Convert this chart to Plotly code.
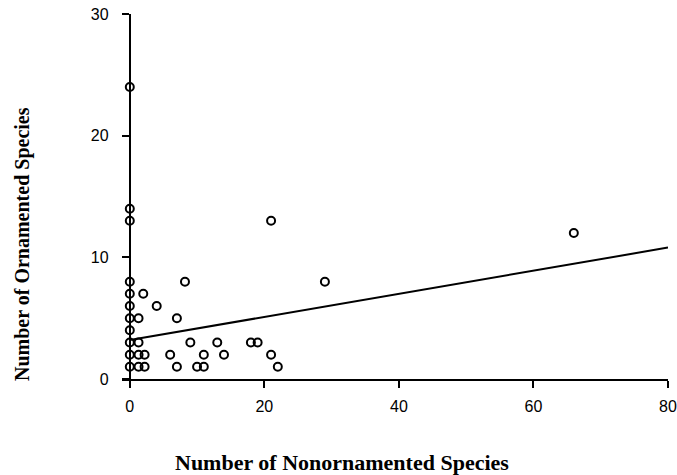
import plotly.graph_objects as go

# Data
nonornamented = [0, 0, 0, 0, 0, 0, 0, 0, 0, 0, 0,
                 1.3, 1.3, 1.3, 2.2, 1.3, 2.2, 2.0, 4.0, 8.2, 7.0,
                 9.0, 13.0, 18.0, 19.0, 6.0, 11.0, 14.0, 21.0, 7.0, 10.0,
                 11.0, 22.0, 21.0, 29.0, 66.0]
ornamented = [24, 14, 13, 8, 7, 6, 5, 4, 3, 2, 1,
              5, 3, 2, 2, 1, 1, 7, 6, 8, 5,
              3, 3, 3, 3, 2, 2, 2, 2, 1, 1,
              1, 1, 13, 8, 12]
trend_x = [0, 80]
trend_y = [3.2, 10.8]
x_ticks = [0, 20, 40, 60, 80]
y_ticks = [0, 10, 20, 30]

W, H = 677, 475
L, R, T, B = 122, 9, 14, 96
x_min = -1.16

fig = go.Figure()
fig.add_trace(go.Scatter(x=trend_x, y=trend_y, mode="lines",
                         line=dict(color="black", width=2), showlegend=False))
fig.add_trace(go.Scatter(x=nonornamented, y=ornamented, mode="markers",
                         marker=dict(symbol="circle-open", size=8,
                                     color="black", line=dict(width=2, color="black")),
                         showlegend=False))

def px_x(p):
    return (p - L) / (W - L - R)

def px_y(p):
    return (H - B - p) / (H - T - B)

fig.update_layout(
    width=W, height=H,
    margin=dict(l=L, r=R, t=T, b=B, autoexpand=False),
    plot_bgcolor="white", paper_bgcolor="white",
    font=dict(family="Liberation Sans, Arial", size=16, color="black"),
    xaxis=dict(range=[x_min, 80], showgrid=False, zeroline=False,
               showline=True, linecolor="black", linewidth=2,
               ticks="outside", ticklen=7, tickwidth=2, tickcolor="black",
               tickvals=x_ticks, ticklabelstandoff=5, automargin=False),
    yaxis=dict(range=[0, 30], showgrid=False, zeroline=False,
               showline=True, linecolor="black", linewidth=2,
               ticks="outside", ticklen=7, tickwidth=2, tickcolor="black",
               tickvals=y_ticks, anchor="free", automargin=False,
               position=(0 - x_min) / (80 - x_min), ticklabelstandoff=10),
    annotations=[
        dict(text="<b>Number of Nonornamented Species</b>", xref="paper", yref="paper",
             x=px_x(342), y=px_y(462), xanchor="center", yanchor="middle",
             showarrow=False,
             font=dict(family="Liberation Serif, Times New Roman", size=22)),
        dict(text="<b>Number of Ornamented Species</b>", xref="paper", yref="paper",
             x=px_x(22), y=px_y(244), xanchor="center", yanchor="middle",
             showarrow=False, textangle=-90,
             font=dict(family="Liberation Serif, Times New Roman", size=20)),
    ],
)

fig.write_html("out.html")
